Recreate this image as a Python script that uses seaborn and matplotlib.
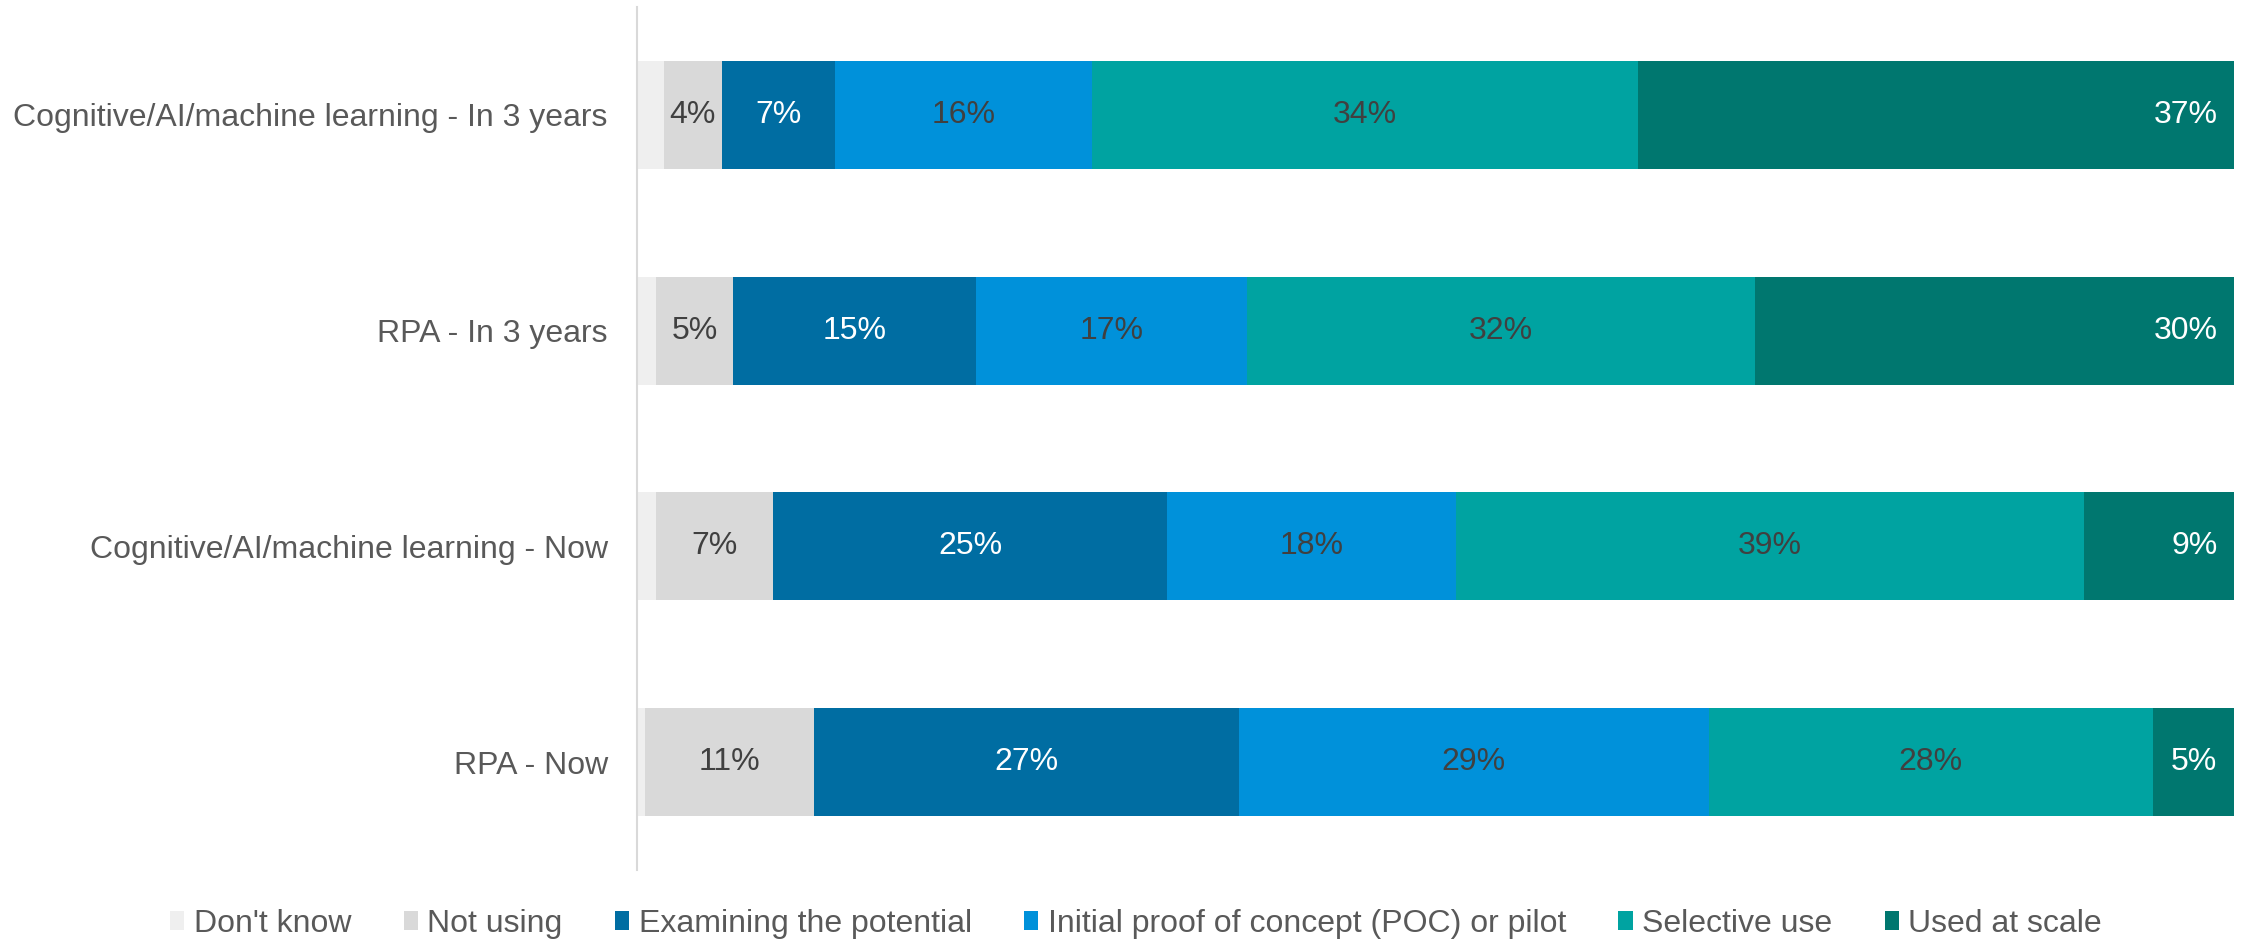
import numpy as np
import pandas as pd
import matplotlib
matplotlib.use("Agg")
import matplotlib.pyplot as plt
from matplotlib.patches import Patch
import seaborn as sns

# Survey responses: share of respondents (%) per adoption stage
categories = [
    "Cognitive/AI/machine learning - In 3 years",
    "RPA - In 3 years",
    "Cognitive/AI/machine learning - Now",
    "RPA - Now",
]
stages = [
    "Don't know",
    "Not using",
    "Examining the potential",
    "Initial proof of concept (POC) or pilot",
    "Selective use",
    "Used at scale",
]
dont_know = [1.7, 1.2, 1.2, 0.5]
not_using = [3.6, 4.8, 7.3, 10.6]
examining = [7.1, 15.2, 24.7, 26.6]
poc_pilot = [16.1, 17.0, 18.1, 29.4]
selective = [34.2, 31.8, 39.3, 27.8]
at_scale = [37.3, 30.0, 9.4, 5.1]

series = [dont_know, not_using, examining, poc_pilot, selective, at_scale]
colors = ["#efefef", "#d9d9d9", "#006da2", "#0091da", "#00a3a1", "#00776f"]
label_colors = [None, "#404040", "white", "#404040", "#404040", "white"]

FS = 23

sns.set_theme(style="white")
plt.rcParams["font.family"] = ["Liberation Sans", "DejaVu Sans"]

df = pd.DataFrame({s: v for s, v in zip(stages, series)}, index=categories)
cum = df.cumsum(axis=1)

fig = plt.figure(figsize=(22.47, 9.42), dpi=100)
ax = fig.add_axes([0.2835, 0.0764, 0.9942 - 0.2835, 0.9926 - 0.0764])

# Stacked bars: draw cumulative totals from the outermost stage inwards
for stage, color in reversed(list(zip(stages, colors))):
    sns.barplot(x=cum[stage].values, y=categories, orient="h", color=color,
                width=0.5, saturation=1, linewidth=0, ax=ax)

# Value labels
for j, stage in enumerate(stages):
    if label_colors[j] is None:
        continue
    for i, cat in enumerate(categories):
        v = df.loc[cat, stage]
        end = cum.loc[cat, stage]
        txt = f"{v:.0f}%"
        if stage == stages[-1]:
            ax.annotate(txt, xy=(end, i), xytext=(-12, 0), textcoords="offset points",
                        ha="right", va="center", fontsize=FS, color=label_colors[j])
        else:
            ax.text(end - v / 2, i, txt, ha="center", va="center",
                    fontsize=FS, color=label_colors[j])

ax.set_xlim(0, 100)
ax.set_ylim(3.5, -0.5)
ax.set_xlabel("")
ax.set_ylabel("")
ax.set_xticks([])
ax.tick_params(axis="y", length=0, pad=21, labelsize=FS, labelcolor="#595959")
for side in ["top", "right", "bottom"]:
    ax.spines[side].set_visible(False)
ax.spines["left"].set_color("#d9d9d9")
ax.spines["left"].set_linewidth(1.5)

handles = [Patch(facecolor=c, edgecolor="none", label=s) for s, c in zip(stages, colors)]
fig.legend(handles=handles, loc="center left", bbox_to_anchor=(170 / 2247, 0.019), ncol=6,
           frameon=False, fontsize=FS, labelcolor="#595959",
           handlelength=0.45, handleheight=0.55, handletextpad=0.3,
           columnspacing=1.63, borderaxespad=0, borderpad=0)

fig.savefig("out.png", dpi=100)
